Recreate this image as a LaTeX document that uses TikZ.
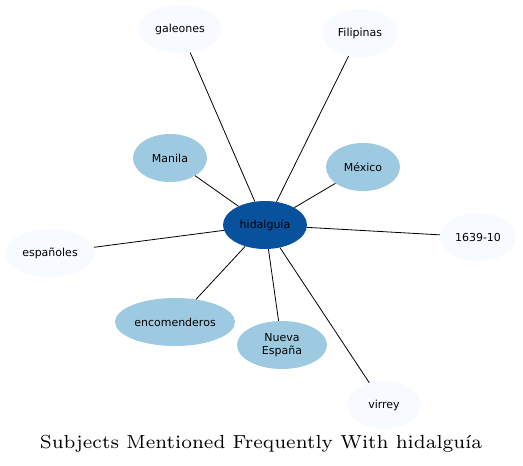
\documentclass[tikz,border=0pt]{standalone}
\usepackage{fontspec}
\newfontfamily\nodefont{DejaVu Sans}
\usetikzlibrary{shapes.geometric}
\definecolor{bdark}{HTML}{08519C}
\definecolor{bmid}{HTML}{9ECAE1}
\definecolor{blight}{HTML}{F7FBFF}
\tikzset{
  topic/.style={ellipse, inner sep=0pt, font=\nodefont\fontsize{11}{13}\selectfont, text=black, align=center},
  hub/.style={topic, fill=bdark, minimum width=84pt, minimum height=48pt},
  midnode/.style={topic, fill=bmid, minimum height=48pt},
  lightnode/.style={topic, fill=blight, minimum height=48pt},
  link/.style={draw=black, line width=0.8pt}
}
\begin{document}
\begin{tikzpicture}[x=1pt,y=-1pt]
\useasboundingbox (0,0) rectangle (523,466);
\node[hub] (h) at (265,225) {hidalguía};
\node[lightnode, minimum width=84pt] (gal) at (180,29) {galeones};
\node[lightnode, minimum width=76pt] (fil) at (360,33) {Filipinas};
\node[midnode, minimum width=74pt] (man) at (170,158) {Manila};
\node[midnode, minimum width=74pt] (mex) at (363,167) {México};
\node[lightnode, minimum width=90pt] (esp) at (50,253) {españoles};
\node[lightnode, minimum width=76pt] (yr) at (478,237) {1639-10};
\node[midnode, minimum width=120pt] (enc) at (175,322) {encomenderos};
\node[midnode, minimum width=90pt] (nue) at (282,345) {Nueva\\España};
\node[lightnode, minimum width=74pt] (vir) at (384,405) {virrey};
\foreach \t in {gal,fil,man,mex,esp,yr,enc,nue,vir}
  \draw[link] (h) -- (\t);
\node[font=\fontsize{7}{8}\selectfont, scale=2.7, anchor=base] (title) at (261,448) {Subjects Mentioned Frequently With hidalguía};
\end{tikzpicture}
\end{document}
